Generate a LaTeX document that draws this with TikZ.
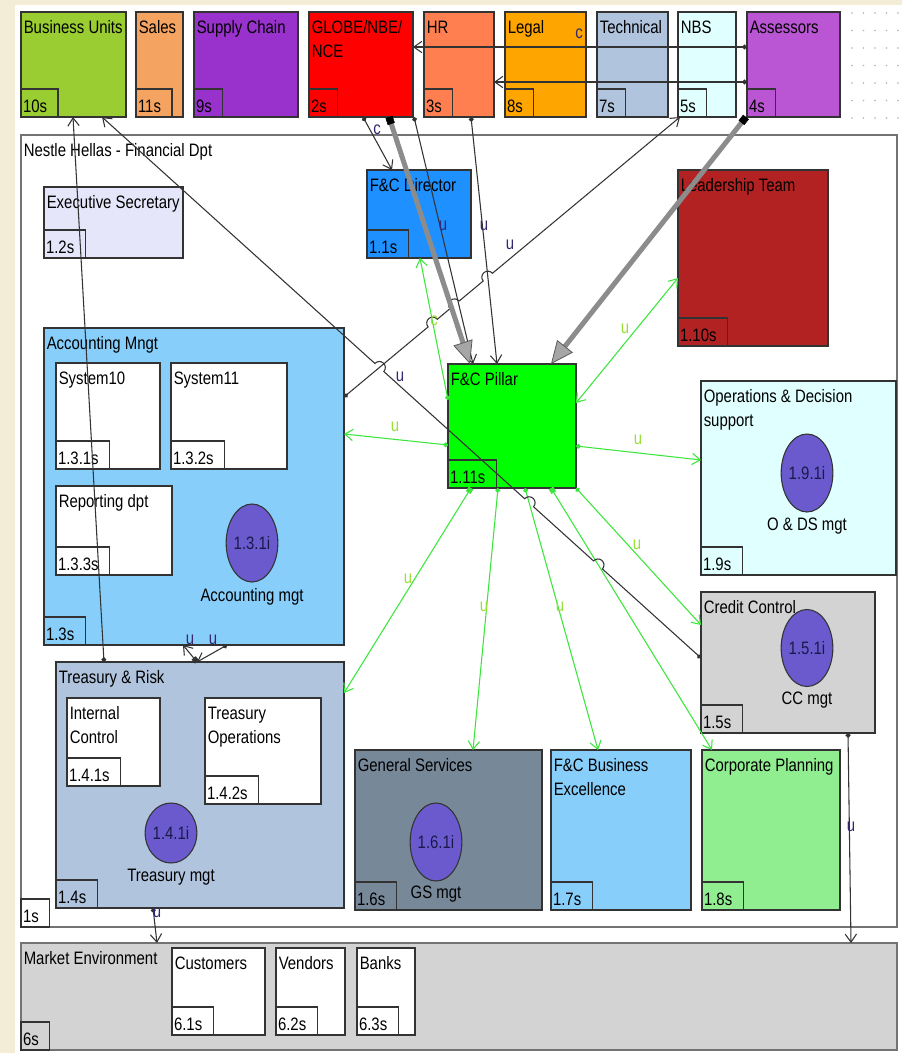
\documentclass[tikz,border=0pt]{standalone}
\usepackage{fontspec}
\setmainfont{Liberation Sans}[FakeStretch=0.83]
\usetikzlibrary{arrows.meta,calc,shapes.geometric}

% unit fills
\definecolor{cream}{HTML}{F3ECD6}
\definecolor{cBU}{HTML}{9ACD32}
\definecolor{cSales}{HTML}{F4A460}
\definecolor{cSupply}{HTML}{9932CC}
\definecolor{cGlobe}{HTML}{FF0000}
\definecolor{cHR}{HTML}{FF7F50}
\definecolor{cLegal}{HTML}{FFA500}
\definecolor{cTech}{HTML}{B0C4DE}
\definecolor{cNBS}{HTML}{E0FFFF}
\definecolor{cAssess}{HTML}{BA55D3}
\definecolor{cExec}{HTML}{E6E6FA}
\definecolor{cDir}{HTML}{1E90FF}
\definecolor{cLead}{HTML}{B22222}
\definecolor{cAcc}{HTML}{87CEFA}
\definecolor{cPillar}{HTML}{00FF00}
\definecolor{cOps}{HTML}{E0FFFF}
\definecolor{cCC}{HTML}{D3D3D3}
\definecolor{cTr}{HTML}{B0C4DE}
\definecolor{cGS}{HTML}{778899}
\definecolor{cBE}{HTML}{87CEFA}
\definecolor{cCP}{HTML}{90EE90}
\definecolor{cMkt}{HTML}{D3D3D3}
\definecolor{cMgt}{HTML}{6A5ACD}
% link colours
\definecolor{linkdark}{HTML}{333333}
\definecolor{linkgreen}{HTML}{3CE63C}
\definecolor{lbldark}{HTML}{352870}
\definecolor{lblgreen}{HTML}{9ADF3A}
\definecolor{fatgray}{HTML}{8C8C8C}
\definecolor{mgttext}{HTML}{1A1A4A}

% box: name, x1, y1, x2, y2, fill
\newcommand\orgbox[6]{\node[unitbox, fill=#6, minimum width={(#4-#2)*0.75pt}, minimum height={(#5-#3)*0.75pt}] (#1) at (#2,#3) {};}
% title line [line index]{box}{text}
\newcommand\boxtitle[3][0]{\node[titletext] (#2-t#1) at ($(#2.north west)+(2.5,21+24*#1)$) {#3};}
% id tag in the lower left corner
\newcommand\boxtag[2]{\node[tagbox] (#1-tag) at (#1.south west) {#2};}
% straight link with line jumps: from, to, fractions, half-width fraction, canvas angle
\newcommand\hopline[5]{foreach \hf in {#3}{ -- ($(#1)!\hf-#4!(#2)$) arc[start angle=#5+180, end angle=#5, radius=4.5pt]} -- (#2)}

\begin{document}
\begin{tikzpicture}[x=0.75pt, y=-0.75pt,
  font=\fontsize{13.5}{18}\selectfont,
  unitbox/.style={draw=black!80, line width=1pt, inner sep=0pt, outer sep=0pt, anchor=north west},
  framebox/.style={draw=black!55, line width=1.5pt, inner sep=0pt, outer sep=0pt, anchor=north west},
  titletext/.style={anchor=base west, inner sep=0pt},
  tagbox/.style={draw=black!80, line width=0.9pt, anchor=south west, outer sep=0pt,
    inner xsep=1.5pt, inner ysep=0pt, text height=17.25pt, text depth=3.75pt,
    execute at end node={\kern6.75pt}},
  mgt/.style={ellipse, draw=black!80, line width=0.8pt, fill=cMgt, inner sep=0pt, text=mgttext},
  caption/.style={anchor=base, inner sep=0pt},
  blk/.style={draw=linkdark, line width=0.8pt},
  grn/.style={draw=linkgreen, line width=0.8pt},
  fat/.style={draw=fatgray, line width=3.75pt},
  lblk/.style={text=lbldark, inner sep=0pt},
  lgrn/.style={text=lblgreen, inner sep=0pt},
  tBarb/.tip={Straight Barb[length=6pt,width=8.5pt]},
  tDot/.tip={Circle[length=3.6pt]},
  tSq/.tip={Square[length=4pt,width=4pt]},
  tBigSq/.tip={Square[length=5.5pt,width=5.5pt,line width=0.4pt,color=black]},
  tTri/.tip={Triangle[length=17pt,width=15pt,line width=0.6pt,fill=gray!70,color=black!65]},
]
\useasboundingbox (0,0) rectangle (902,1053);
\fill[cream] (0,0) rectangle (902,1053);
\fill[white] (15,5) rectangle (902,1053);

% dotted grid in the free corner
\foreach \gx in {852,863.5,875,886.5,898}
  \foreach \gy in {13,30.5,48,65.5,83,100.5,118}
    \fill[gray!60] (\gx,\gy) circle[radius=0.9];

% ---------------- outer frames
\node[framebox, fill=white, minimum width={876*0.75pt}, minimum height={792*0.75pt}] (fin) at (21,135) {};
\boxtitle{fin}{Nestle Hellas - Financial Dpt}
\boxtag{fin}{1s}

\node[framebox, fill=cMkt, minimum width={876*0.75pt}, minimum height={107*0.75pt}] (mkt) at (21,943) {};
\boxtitle{mkt}{Market Environment}
\boxtag{mkt}{6s}

% ---------------- top row
\orgbox{bu}{21}{12}{126}{117}{cBU}          \boxtitle{bu}{Business Units}   \boxtag{bu}{10s}
\orgbox{sales}{136}{12}{183}{117}{cSales}   \boxtitle{sales}{Sales}         \boxtag{sales}{11s}
\orgbox{supply}{194}{12}{298}{117}{cSupply} \boxtitle{supply}{Supply Chain} \boxtag{supply}{9s}
\orgbox{globe}{309}{12}{413}{117}{cGlobe}   \boxtitle{globe}{GLOBE/NBE/} \boxtitle[1]{globe}{NCE} \boxtag{globe}{2s}
\orgbox{hr}{424}{12}{494}{117}{cHR}         \boxtitle{hr}{HR}               \boxtag{hr}{3s}
\orgbox{legal}{505}{12}{586}{117}{cLegal}   \boxtitle{legal}{Legal}         \boxtag{legal}{8s}
\orgbox{tech}{597}{12}{668}{117}{cTech}     \boxtitle{tech}{Technical}      \boxtag{tech}{7s}
\orgbox{nbs}{678}{12}{736}{117}{cNBS}       \boxtitle{nbs}{NBS}             \boxtag{nbs}{5s}
\orgbox{assess}{747}{12}{840}{117}{cAssess} \boxtitle{assess}{Assessors}    \boxtag{assess}{4s}

% ---------------- financial department
\orgbox{exec}{44}{187}{183}{258}{cExec}   \boxtitle{exec}{Executive Secretary} \boxtag{exec}{1.2s}
\orgbox{dir}{367}{170}{471}{258}{cDir}    \boxtitle{dir}{F\&C Director}        \boxtag{dir}{1.1s}
\orgbox{lead}{678}{170}{828}{346}{cLead}  \boxtitle{lead}{Leadership Team}     \boxtag{lead}{1.10s}

\orgbox{acc}{44}{328}{344}{645}{cAcc}     \boxtitle{acc}{Accounting Mngt}      \boxtag{acc}{1.3s}
\orgbox{sys10}{56}{363}{160}{469}{white}  \boxtitle{sys10}{System10}           \boxtag{sys10}{1.3.1s}
\orgbox{sys11}{171}{363}{287}{469}{white} \boxtitle{sys11}{System11}           \boxtag{sys11}{1.3.2s}
\orgbox{rep}{56}{486}{172}{575}{white}    \boxtitle{rep}{Reporting dpt}        \boxtag{rep}{1.3.3s}
\node[mgt, minimum width=37.5pt, minimum height=58.5pt] (acc-m) at (252,543) {1.3.1i};
\node[caption] (acc-c) at (252,601) {Accounting mgt};

\orgbox{pillar}{448}{364}{576}{488}{cPillar} \boxtitle{pillar}{F\&C Pillar}    \boxtag{pillar}{1.11s}

\orgbox{ops}{701}{381}{896}{575}{cOps}    \boxtitle{ops}{Operations \& Decision} \boxtitle[1]{ops}{support} \boxtag{ops}{1.9s}
\node[mgt, minimum width=37.5pt, minimum height=58.5pt] (ops-m) at (807,473) {1.9.1i};
\node[caption] (ops-c) at (807,530) {O \& DS mgt};

\orgbox{cc}{701}{592}{875}{733}{cCC}      \boxtitle{cc}{Credit Control}        \boxtag{cc}{1.5s}
\node[mgt, minimum width=37.5pt, minimum height=57.75pt] (cc-m) at (807,648) {1.5.1i};
\node[caption] (cc-c) at (807,704) {CC mgt};

\orgbox{tr}{56}{662}{344}{908}{cTr}       \boxtitle{tr}{Treasury \& Risk}      \boxtag{tr}{1.4s}
\orgbox{ic}{67}{698}{160}{786}{white}     \boxtitle{ic}{Internal} \boxtitle[1]{ic}{Control} \boxtag{ic}{1.4.1s}
\orgbox{tops}{205}{698}{321}{804}{white}  \boxtitle{tops}{Treasury} \boxtitle[1]{tops}{Operations} \boxtag{tops}{1.4.2s}
\node[mgt, minimum width=29.25pt, minimum height=45pt] (tr-m) at (171,833) {1.4.1i};
\node[caption] (tr-c) at (171,881) {Treasury mgt};

\orgbox{gs}{355}{750}{542}{910}{cGS}      \boxtitle{gs}{General Services}      \boxtag{gs}{1.6s}
\node[mgt, minimum width=37.5pt, minimum height=58.5pt] (gs-m) at (436,842) {1.6.1i};
\node[caption] (gs-c) at (436,898) {GS mgt};

\orgbox{fcbe}{551}{750}{691}{910}{cBE}    \boxtitle{fcbe}{F\&C Business} \boxtitle[1]{fcbe}{Excellence} \boxtag{fcbe}{1.7s}
\orgbox{cp}{702}{750}{840}{910}{cCP}      \boxtitle{cp}{Corporate Planning}    \boxtag{cp}{1.8s}

% ---------------- market environment
\orgbox{cust}{172}{948}{265}{1035}{white} \boxtitle{cust}{Customers} \boxtag{cust}{6.1s}
\orgbox{vend}{276}{948}{345}{1035}{white} \boxtitle{vend}{Vendors}   \boxtag{vend}{6.2s}
\orgbox{banks}{357}{948}{415}{1035}{white} \boxtitle{banks}{Banks}   \boxtag{banks}{6.3s}

% ---------------- green links out of the pillar
\draw[grn, {tDot}-{tBarb}] ($(pillar.north west)+(0,36)$) -- ($(dir.south west)+(53,0)$);
\draw[grn, {tDot}-{tBarb}] ($(pillar.north west)+(0,81)$) -- ($(acc.north east)+(0,106)$);
\draw[grn, {tBarb}-{tBarb}] ($(pillar.north east)+(0,39)$) -- ($(lead.north west)+(0,108)$);
\draw[grn, {tDot}-{tBarb}] ($(pillar.north east)+(0,82)$) -- ($(ops.north west)+(0,79)$);
\draw[grn, {tSq}-{tBarb}] ($(pillar.south west)+(23,0)$) -- ($(tr.north east)+(0,31)$);
\draw[grn, {tDot}-{tBarb}] ($(pillar.south west)+(50,0)$) -- ($(gs.north west)+(118,0)$);
\draw[grn, {tDot}-{tBarb}] ($(pillar.south west)+(77,0)$) -- ($(fcbe.north west)+(47,0)$);
\draw[grn, {tSq}-{tBarb}] ($(pillar.south west)+(103,0)$) -- ($(cp.north west)+(10,0)$);
\draw[grn, {tDot}-{tBarb}] (pillar.south east) -- ($(cc.north west)+(0,33)$);

% ---------------- dark links
\draw[blk, {tDot}-{tBarb}] ($(tr.north west)+(48,0)$) -- ($(bu.south west)+(52,0)$);

\coordinate (buA) at ($(bu.south west)+(81,0)$);
\coordinate (ccA) at ($(cc.north west)+(0,66)$);
\draw[blk, {tBarb}-{tDot}] (buA) \hopline{buA}{ccA}{0.463,0.713,0.828}{0.0074}{-42.08};

\coordinate (accA) at ($(acc.north east)+(0,69)$);
\coordinate (nbsA) at ($(nbs.south west)+(2,0)$);
\draw[blk, {tDot}-{tBarb}] (accA) \hopline{accA}{nbsA}{0.264,0.329,0.428}{0.0137}{39.8};

\draw[blk, {tDot}-{tBarb}] ($(globe.south west)+(54,0)$) -- ($(dir.north west)+(25,0)$);
\draw[blk, {tDot}-{tBarb}] ($(globe.south west)+(105,0)$) -- ($(pillar.north west)+(25,0)$);
\draw[blk, {tDot}-{tBarb}] ($(hr.south west)+(47,0)$) -- ($(pillar.north west)+(49,0)$);
\draw[blk, {tBarb}-{tDot}] ($(globe.north east)+(0,35)$) -- ($(assess.north west)+(0,35)$);
\draw[blk, {tBarb}-{tDot}] ($(hr.north east)+(0,70)$) -- ($(assess.north west)+(0,70)$);

\draw[blk, {tSq}-{tBarb}] ($(tr.north west)+(141,0)$) -- ($(acc.south west)+(139,0)$);
\draw[blk, {tDot}-{tBarb}] ($(acc.south west)+(183,0)$) -- ($(tr.north west)+(141,0)$);
\draw[blk, {tDot}-{tBarb}] ($(tr.south west)+(97,0)$) -- ($(mkt.north west)+(136,0)$);
\draw[blk, {tDot}-{tBarb}] ($(cc.south west)+(147,0)$) -- ($(mkt.north west)+(830,0)$);

% ---------------- heavy links into the pillar
\draw[fat, {tBigSq}-{tTri}] ($(globe.south west)+(80,0)$) -- ($(pillar.north west)+(22,0)$);
\draw[fat, {tBigSq}-{tTri}] ($(assess.south west)+(-1,0)$) -- ($(pillar.north west)+(103,0)$);

% ---------------- link labels
\node[lblk] (l1) at (377,130) {c};
\node[lblk] (l2) at (443,226) {u};
\node[lblk] (l3) at (484,226) {u};
\node[lblk] (l4) at (579,34) {c};
\node[lblk] (l5) at (510,245) {u};
\node[lblk] (l6) at (400,377) {u};
\node[lgrn] (l7) at (434,321) {c};
\node[lgrn] (l8) at (395,427) {u};
\node[lgrn] (l9) at (625,329) {u};
\node[lgrn] (l10) at (638,440) {u};
\node[lgrn] (l11) at (408,579) {u};
\node[lgrn] (l12) at (484,607) {u};
\node[lgrn] (l13) at (560,607) {u};
\node[lgrn] (l14) at (637,545) {u};
\node[lblk] (l15) at (190,640) {u};
\node[lblk] (l16) at (213,640) {u};
\node[lblk] (l17) at (157,913) {u};
\node[lblk] (l18) at (851,827) {u};
\end{tikzpicture}
\end{document}
